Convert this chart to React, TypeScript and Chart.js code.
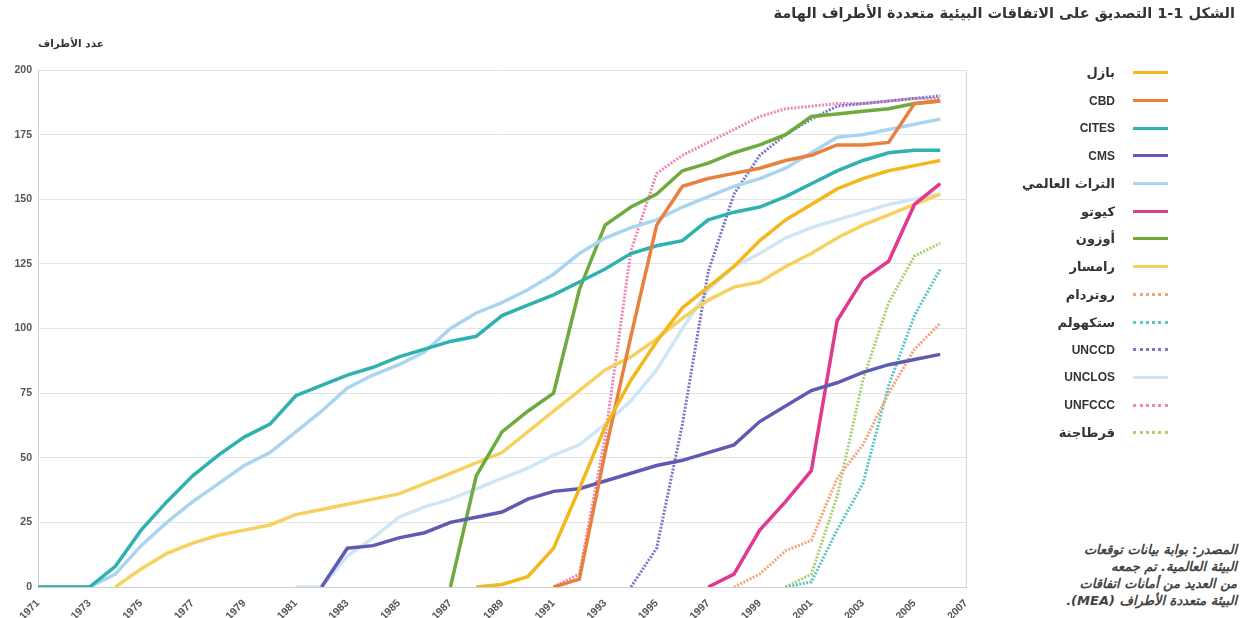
import React, { useEffect, useRef } from "react";
import { Chart, registerables } from "chart.js";

Chart.register(...registerables);

const years = [
  1971, 1972, 1973, 1974, 1975, 1976, 1977, 1978, 1979, 1980, 1981, 1982, 1983,
  1984, 1985, 1986, 1987, 1988, 1989, 1990, 1991, 1992, 1993, 1994, 1995, 1996,
  1997, 1998, 1999, 2000, 2001, 2002, 2003, 2004, 2005, 2006, 2007,
];
const yTicks = [0, 25, 50, 75, 100, 125, 150, 175, 200];

const basel = [0, 1, 4, 15, 38, 62, 80, 95, 108, 116, 124, 134, 142, 148, 154, 158, 161, 163, 165]; // from 1988
const cbd = [0, 3, 52, 97, 140, 155, 158, 160, 162, 165, 167, 171, 171, 172, 187, 188]; // from 1991
const cites = [0, 0, 0, 8, 22, 33, 43, 51, 58, 63, 74, 78, 82, 85, 89, 92, 95, 97, 105, 109, 113, 118, 123, 129, 132, 134, 142, 145, 147, 151, 156, 161, 165, 168, 169, 169]; // from 1971
const cms = [0, 15, 16, 19, 21, 25, 27, 29, 34, 37, 38, 41, 44, 47, 49, 52, 55, 64, 70, 76, 79, 83, 86, 88, 90]; // from 1982
const heritage = [0, 0, 0, 5, 16, 25, 33, 40, 47, 52, 60, 68, 77, 82, 86, 91, 100, 106, 110, 115, 121, 129, 135, 139, 142, 147, 151, 155, 158, 162, 168, 174, 175, 177, 179, 181]; // from 1971
const kyoto = [0, 5, 22, 33, 45, 103, 119, 126, 148, 156]; // from 1997
const ozone = [0, 43, 60, 68, 75, 115, 140, 147, 152, 161, 164, 168, 171, 175, 182, 183, 184, 185, 187, 188]; // from 1987
const ramsar = [0, 7, 13, 17, 20, 22, 24, 28, 30, 32, 34, 36, 40, 44, 48, 52, 60, 68, 76, 84, 89, 96, 104, 111, 116, 118, 124, 129, 135, 140, 144, 148, 152]; // from 1974
const rotterdam = [0, 5, 14, 18, 42, 55, 75, 92, 102]; // from 1998
const stockholm = [0, 2, 22, 40, 78, 105, 123]; // from 2000
const unccd = [0, 15, 63, 122, 152, 167, 175, 181, 186, 187, 188, 189, 190]; // from 1994
const unclos = [0, 0, 12, 19, 27, 31, 34, 38, 42, 46, 51, 55, 63, 72, 84, 100, 115, 124, 129, 135, 139, 142, 145, 148, 150, 152]; // from 1981
const unfccc = [0, 5, 58, 130, 160, 167, 172, 177, 182, 185, 186, 187, 187, 188, 189, 189]; // from 1991
const cartagena = [0, 5, 35, 80, 110, 128, 133]; // from 2000

type S = { name: string; start: number; values: number[]; color: string; dotted: boolean };

const series: S[] = [
  { name: "بازل", start: 1988, values: basel, color: "#f3b81c", dotted: false },
  { name: "CBD", start: 1991, values: cbd, color: "#e8813e", dotted: false },
  { name: "CITES", start: 1971, values: cites, color: "#2fb1b0", dotted: false },
  { name: "CMS", start: 1982, values: cms, color: "#5f5ab4", dotted: false },
  { name: "التراث العالمي", start: 1971, values: heritage, color: "#a9d5ef", dotted: false },
  { name: "كيوتو", start: 1997, values: kyoto, color: "#e1398d", dotted: false },
  { name: "أوزون", start: 1987, values: ozone, color: "#6eab3e", dotted: false },
  { name: "رامسار", start: 1974, values: ramsar, color: "#f6d15e", dotted: false },
  { name: "روتردام", start: 1998, values: rotterdam, color: "#f2a57c", dotted: true },
  { name: "ستكهولم", start: 2000, values: stockholm, color: "#5ec5c6", dotted: true },
  { name: "UNCCD", start: 1994, values: unccd, color: "#7b77c7", dotted: true },
  { name: "UNCLOS", start: 1981, values: unclos, color: "#cfe6f6", dotted: false },
  { name: "UNFCCC", start: 1991, values: unfccc, color: "#ee86bb", dotted: true },
  { name: "قرطاجنة", start: 2000, values: cartagena, color: "#a9d073", dotted: true },
];

const title = "الشكل 1-1 التصديق على الاتفاقات البيئية متعددة الأطراف الهامة";
const yTitle = "عدد الأطراف";
const sourceLines = [
  "المصدر: بوابة بيانات توقعات",
  "البيئة العالمية. تم جمعه",
  "من العديد من أمانات اتفاقات",
  "البيئة متعددة الأطراف (MEA).",
];

const LAT = '"Liberation Sans", Arial, sans-serif';
const AR = '"DejaVu Sans", sans-serif';

function pad(start: number, vals: number[]): (number | null)[] {
  const lead = years.indexOf(start);
  return [...new Array(lead).fill(null), ...vals];
}

const frame = {
  id: "frame",
  beforeDatasetsDraw(chart: any) {
    const { ctx, chartArea } = chart;
    ctx.save();
    ctx.strokeStyle = "#d6d6d6";
    ctx.lineWidth = 1;
    ctx.beginPath();
    ctx.moveTo(chartArea.right + 0.5, chartArea.top);
    ctx.lineTo(chartArea.right + 0.5, chartArea.bottom);
    ctx.stroke();
    ctx.restore();
  },
};

export default function App() {
  const ref = useRef<HTMLCanvasElement | null>(null);

  useEffect(() => {
    if (!ref.current) return;
    const labels = years.map(String);
    const chart = new Chart(ref.current, {
      type: "line",
      data: {
        labels,
        datasets: series.map((s) => ({
          label: s.name,
          data: pad(s.start, s.values),
          borderColor: s.color,
          backgroundColor: s.color,
          borderWidth: s.dotted ? 3 : 3.5,
          borderDash: s.dotted ? [2, 1.5] : [],
          borderCapStyle: "butt",
          pointRadius: 0,
          tension: 0,
          fill: false,
        })),
      },
      options: {
        animation: false,
        responsive: false,
        maintainAspectRatio: false,
        layout: { padding: { left: 0, right: 34, top: 70, bottom: 0 } },
        plugins: { legend: { display: false }, tooltip: { enabled: false } },
        scales: {
          x: {
            grid: { display: false },
            border: { color: "#cfcfcf" },
            ticks: {
              autoSkip: false,
              maxRotation: 45,
              minRotation: 45,
              color: "#555",
              font: { family: LAT, size: 10.5, weight: "bold" },
              padding: 2,
              callback: (_v: any, i: number) => (i % 2 === 0 ? labels[i] : ""),
            },
            afterFit: (s: any) => {
              s.height = 31;
            },
          },
          y: {
            min: 0,
            max: 200,
            afterBuildTicks: (s: any) => {
              s.ticks = yTicks.map((v) => ({ value: v }));
            },
            ticks: {
              color: "#555",
              font: { family: LAT, size: 10.5, weight: "bold" },
              padding: 6,
            },
            grid: { color: "#e3e3e3", drawTicks: false },
            border: { color: "#cfcfcf" },
            afterFit: (s: any) => {
              s.width = 38;
            },
          },
        },
      },
      plugins: [frame],
    });
    return () => chart.destroy();
  }, []);

  return (
    <div
      style={{
        position: "fixed",
        left: 0,
        top: 0,
        width: 1248,
        height: 618,
        background: "#fff",
        overflow: "hidden",
      }}
    >
      <canvas
        ref={ref}
        width={1000}
        height={618}
        style={{ position: "absolute", left: 0, top: 0, width: 1000, height: 618 }}
      />
      <div
        dir="rtl"
        style={{
          position: "absolute",
          right: 13,
          top: 5,
          fontFamily: AR,
          fontWeight: "bold",
          fontSize: 14.5,
          color: "#333",
          whiteSpace: "nowrap",
        }}
      >
        {title}
      </div>
      <div
        dir="rtl"
        style={{
          position: "absolute",
          left: 38,
          top: 37,
          fontFamily: AR,
          fontWeight: "bold",
          fontSize: 10.5,
          color: "#333",
          whiteSpace: "nowrap",
        }}
      >
        {yTitle}
      </div>
      <div style={{ position: "absolute", left: 940, top: 59, width: 228 }}>
        {series.map((s) => (
          <div
            key={s.name}
            style={{
              height: 27.7,
              display: "flex",
              alignItems: "center",
              justifyContent: "flex-end",
            }}
          >
            <span
              dir="rtl"
              style={{
                fontFamily: /[A-Z]/.test(s.name) ? LAT : AR,
                fontWeight: "bold",
                fontSize: /[A-Z]/.test(s.name) ? 12 : 13,
                color: "#333",
                marginRight: 18,
                whiteSpace: "nowrap",
              }}
            >
              {s.name}
            </span>
            <span
              style={{
                width: 35,
                height: 0,
                borderTop: `3px ${s.dotted ? "dotted" : "solid"} ${s.color}`,
              }}
            />
          </div>
        ))}
      </div>
      <div
        dir="rtl"
        style={{
          position: "absolute",
          right: 11,
          top: 541,
          fontFamily: AR,
          fontStyle: "italic",
          fontWeight: "bold",
          fontSize: 13,
          lineHeight: "17px",
          color: "#444",
          textAlign: "right",
          whiteSpace: "nowrap",
        }}
      >
        {sourceLines.map((l, i) => (
          <div key={i}>{l}</div>
        ))}
      </div>
    </div>
  );
}
